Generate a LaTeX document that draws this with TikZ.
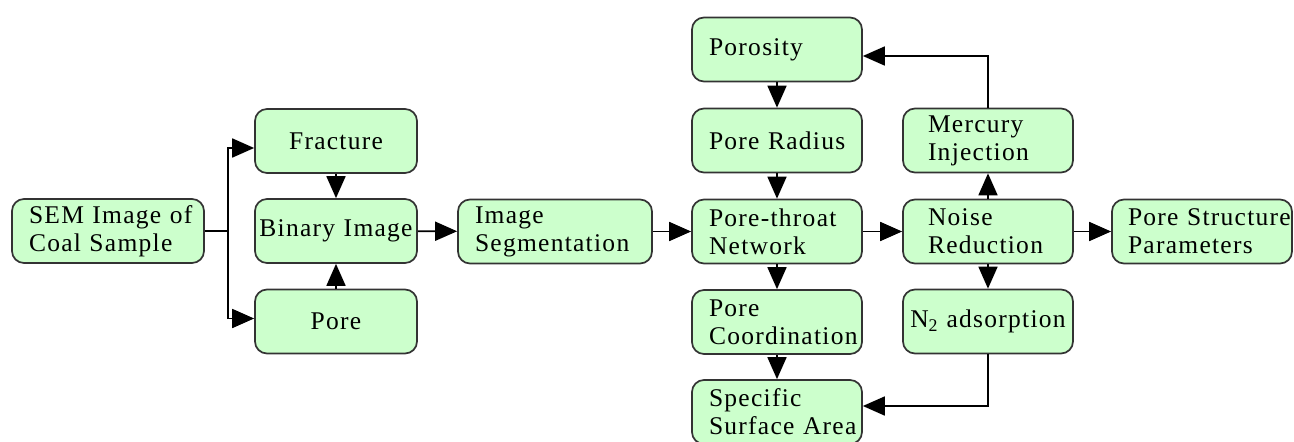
\documentclass[tikz,border=0pt]{standalone}
\usepackage{fontspec}
\setmainfont[LetterSpace=5]{Liberation Serif}
\usetikzlibrary{arrows.meta}
\definecolor{boxfill}{HTML}{CCFFCC}
\definecolor{boxline}{HTML}{333333}
\begin{document}
\begin{tikzpicture}[x=1pt,y=-1pt,
  box/.style={draw=boxline, fill=boxfill, rounded corners=12pt, line width=1.7pt,
    inner xsep=17pt, inner ysep=0pt, minimum height=64pt, text width=#1, align=left,
    font=\fontsize{25.5}{28}\selectfont},
  cbox/.style={box=#1, inner xsep=0pt, align=center},
  arr/.style={line width=1.8pt, draw=black, -{Triangle[length=22pt,width=19pt]}},
  ln/.style={line width=1.8pt, draw=black}]
\useasboundingbox (0,0) rectangle (1294,442);
\node[box=158pt] (sem) at (108,231) {\mbox{SEM Image of}\\\mbox{Coal Sample}};
\node[cbox=162pt] (frac) at (336,141) {Fracture};
\node[cbox=162pt] (bin) at (336,231) {\mbox{Binary Image}};
\node[cbox=162pt] (pore) at (336,321.5) {Pore};
\node[box=160pt] (seg) at (555,231.5) {\mbox{Image}\\\mbox{Segmentation}};
\node[box=136pt] (ptn) at (777,231.5) {\mbox{Pore-throat}\\\mbox{Network}};
\node[box=136pt] (poros) at (777,49.5) {Porosity};
\node[box=136pt] (rad) at (777,140.5) {\mbox{Pore Radius}};
\node[box=136pt] (coord) at (777,322) {\mbox{Pore}\\\mbox{Coordination}};
\node[box=136pt] (ssa) at (777,412) {\mbox{Specific}\\\mbox{Surface Area}};
\node[box=120pt, inner xsep=25pt] (merc) at (988,140.5) {\mbox{Mercury}\\\mbox{Injection}};
\node[box=120pt, inner xsep=25pt] (noise) at (988,231.5) {\mbox{Noise}\\\mbox{Reduction}};
\node[cbox=170pt] (n2) at (988,321.5) {\mbox{N\textsubscript{2} adsorption}};
\node[box=148pt, inner xsep=16pt] (psp) at (1202,231.5) {\mbox{Pore Structure}\\\mbox{Parameters}};
% connectors
\coordinate (br) at (228,231);
\draw[ln] (sem.east) -- (br);
\draw[arr] (br) |- ([yshift=-7pt]frac.west);
\draw[arr] (br) |- ([yshift=3pt]pore.west);
\draw[arr] (frac) -- (bin);
\draw[arr] (pore) -- (bin);
\draw[arr] (bin) -- (seg);
\draw[arr] (seg) -- (ptn);
\draw[arr] (poros) -- (rad);
\draw[arr] (rad) -- (ptn);
\draw[arr] (ptn) -- (coord);
\draw[arr] (coord) -- (ssa);
\draw[arr] (ptn) -- (noise);
\draw[arr] (noise) -- (merc);
\draw[arr] (noise) -- (n2);
\draw[arr] (noise) -- (psp);
\draw[arr] (merc.north) |- ([yshift=-6.5pt]poros.east);
\draw[arr] (n2.south) |- ([yshift=6pt]ssa.east);
\end{tikzpicture}
\end{document}
